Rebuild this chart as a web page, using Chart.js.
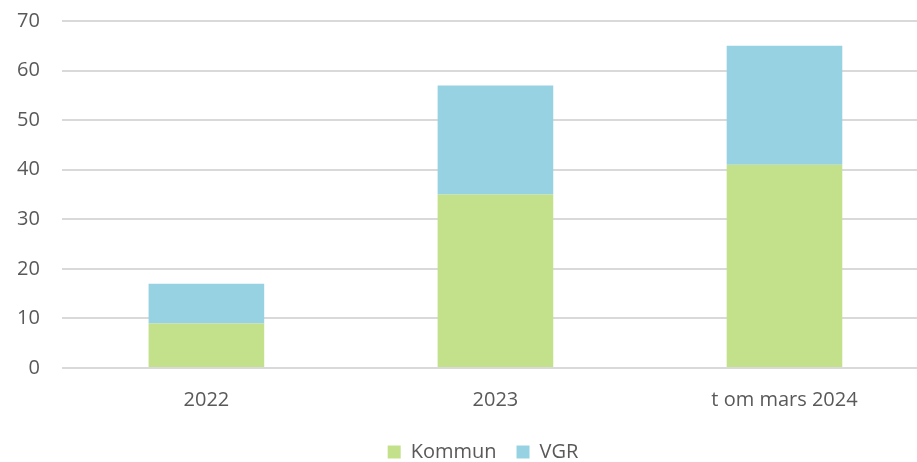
<!DOCTYPE html>
<html>
<head>
<meta charset="utf-8">
<script src="https://cdn.jsdelivr.net/npm/chart.js@4"></script>
<style>
  html, body { margin: 0; padding: 0; background: #fff; overflow: hidden; }
  #wrap { width: 930px; height: 475px; position: relative; top: -13px; }
</style>
</head>
<body>
<div id="wrap"><canvas id="myChart"></canvas></div>
<script>
const categories = ['2022', '2023', 't om mars 2024'];
const kommun = [9, 35, 41];
const vgr = [8, 22, 24];
const yTicks = [0, 10, 20, 30, 40, 50, 60, 70];

// nudge the legend a bit right, like in the original
const legendShift = {
    id: 'legendShift',
    afterLayout: chart => {
        chart.legend.left += 21;
        chart.legend.right += 21;
    }
};

const ctx = document.getElementById('myChart').getContext('2d');
const chart = new Chart(ctx, {
    type: 'bar',
    data: {
        labels: categories,
        datasets: [{
            label: 'Kommun',
            data: kommun,
            backgroundColor: '#C3E08A',
            barPercentage: 0.4,
            categoryPercentage: 1
        }, {
            label: 'VGR',
            data: vgr,
            backgroundColor: '#97D2E3',
            barPercentage: 0.4,
            categoryPercentage: 1
        }]
    },
    plugins: [legendShift],
    options: {
        responsive: true,
        maintainAspectRatio: false,
        animation: false,
        layout: { padding: { left: -5, right: 1, top: 0, bottom: -10 } },
        scales: {
            x: {
                stacked: true,
                grid: { display: false },
                border: { display: false },
                afterFit: axis => { axis.height = 54; },
                ticks: {
                    color: '#595959',
                    font: { family: 'Open Sans', size: 20 },
                    padding: 12
                }
            },
            y: {
                stacked: true,
                min: 0,
                max: 70,
                afterBuildTicks: axis => { axis.ticks = yTicks.map(v => ({ value: v })); },
                grid: { color: '#D9D9D9', lineWidth: 2, drawTicks: false },
                border: { display: false },
                ticks: {
                    color: '#595959',
                    font: { family: 'Open Sans', size: 20 },
                    padding: 22
                }
            }
        },
        plugins: {
            legend: {
                position: 'bottom',
                labels: {
                    color: '#595959',
                    font: { family: 'Open Sans', size: 20 },
                    boxWidth: 13,
                    boxHeight: 13,
                    padding: 20
                }
            },
            tooltip: { enabled: false }
        }
    }
});
</script>
</body>
</html>
